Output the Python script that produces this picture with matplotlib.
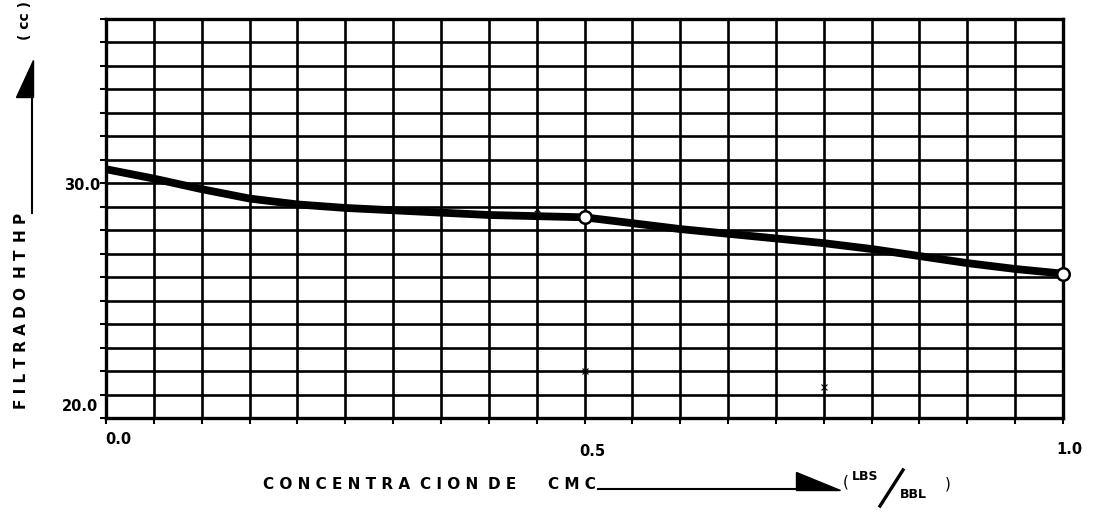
import numpy as np
import matplotlib.pyplot as plt
from matplotlib.patches import Polygon
from matplotlib.lines import Line2D

# Filtrado HT-HP vs concentracion de CMC
cmc = [0.00, 0.05, 0.10, 0.15, 0.20, 0.25, 0.30, 0.35, 0.40, 0.45, 0.50,
       0.55, 0.60, 0.65, 0.70, 0.75, 0.80, 0.85, 0.90, 0.95, 1.00]
filtrado = [30.6, 30.2, 29.75, 29.35, 29.1, 28.95, 28.85, 28.75, 28.65, 28.6, 28.55,
            28.3, 28.05, 27.85, 27.65, 27.45, 27.2, 26.9, 26.6, 26.35, 26.15]

# puntos medidos (circulos) y marcas sueltas
cmc_medidos = [0.5, 1.0]
filtrado_medidos = [28.55, 26.15]
marcas_cmc = [0.45, 0.5, 0.75]
marcas_filtrado = [28.9, 22.0, 21.3]

x_ticks = [0.0, 0.5, 1.0]
x_tick_labels = ["0.0", "0.5", "1.0"]
y_ticks = [20.0, 30.0]
y_tick_labels = ["20.0", "30.0"]

W, H = 1097, 512
fig = plt.figure(figsize=(W / 100, H / 100), dpi=100)


def fx(x):
    return x / W


def fy(y):
    return 1 - y / H


ax = fig.add_axes([fx(106), fy(418), (1063 - 106) / W, (418 - 19) / H])
ax.set_xlim(0, 1)
ax.set_ylim(20, 37)
ax.set_xticks(np.linspace(0, 1, 21))
ax.set_yticks(np.arange(20, 38, 1))
ax.set_xticklabels([])
ax.set_yticklabels([])
ax.grid(True, color="black", lw=1.9)
ax.set_axisbelow(True)
ax.tick_params(length=4, width=1.5, color="black")
for s in ax.spines.values():
    s.set_linewidth(2.4)

ax.plot(cmc, filtrado, color="black", lw=5.6, solid_capstyle="round", zorder=3)
ax.plot(cmc_medidos, filtrado_medidos, "o", ms=9, mfc="white", mec="black",
        mew=1.8, zorder=4, clip_on=False)
ax.plot(marcas_cmc, marcas_filtrado, "x", ms=4, color="black", mew=0.8, zorder=3)

# etiquetas de los ejes, desplazadas como en el rotulado a mano
x_offsets = [(12, -22), (8, -34), (6, -32)]
for v, lab, (dx, dy) in zip(x_ticks, x_tick_labels, x_offsets):
    ax.annotate(lab, xy=(v, 0), xycoords=("data", "axes fraction"),
                xytext=(dx, dy), textcoords="offset pixels",
                ha="center", va="center", fontsize=10.5, fontweight="bold")
y_offsets = [(-26, 12), (-24, -2)]
for v, lab, (dx, dy) in zip(y_ticks, y_tick_labels, y_offsets):
    ax.annotate(lab, xy=(0, v), xycoords=("axes fraction", "data"),
                xytext=(dx, dy), textcoords="offset pixels",
                ha="center", va="center", fontsize=10.5, fontweight="bold")

# titulo del eje Y con flecha
for palabra, yc in [("F I L T R A D O", 348), ("H T", 264), ("H P", 227)]:
    fig.text(fx(22), fy(yc), palabra, rotation=90, ha="center", va="center",
             fontsize=11, fontweight="bold")
fig.add_artist(Line2D([fx(32), fx(32)], [fy(213), fy(70)], color="black",
                      lw=1.5, transform=fig.transFigure))
fig.add_artist(Polygon([(fx(33), fy(60)), (fx(33), fy(97)), (fx(16), fy(97))],
                       closed=True, color="black", transform=fig.transFigure))
fig.text(fx(25), fy(21), "( cc )", rotation=90, ha="center", va="center",
         fontsize=10, fontweight="bold")

# titulo del eje X con flecha y unidades
base = 489
for palabra, x0 in [("C O N C E N T R A", 263), ("C I O N", 420), ("D E", 488),
                    ("C M C", 548)]:
    fig.text(fx(x0), fy(base), palabra, ha="left", va="baseline",
             fontsize=11, fontweight="bold")
fig.add_artist(Line2D([fx(598), fx(796)], [fy(base), fy(base)], color="black",
                      lw=1.5, transform=fig.transFigure))
fig.add_artist(Polygon([(fx(796), fy(472)), (fx(796), fy(base + 1)),
                        (fx(840), fy(base + 1))],
                       closed=True, color="black", transform=fig.transFigure))
fig.text(fx(846), fy(482), "(", ha="center", va="center", fontsize=11)
fig.text(fx(852), fy(476), "LBS", ha="left", va="center", fontsize=9, fontweight="bold")
fig.add_artist(Line2D([fx(880), fx(903)], [fy(506), fy(470)], color="black",
                      lw=2.4, transform=fig.transFigure))
fig.text(fx(900), fy(495), "BBL", ha="left", va="center", fontsize=9, fontweight="bold")
fig.text(fx(948), fy(484), ")", ha="center", va="center", fontsize=11)

fig.savefig("out.png", dpi=100)
